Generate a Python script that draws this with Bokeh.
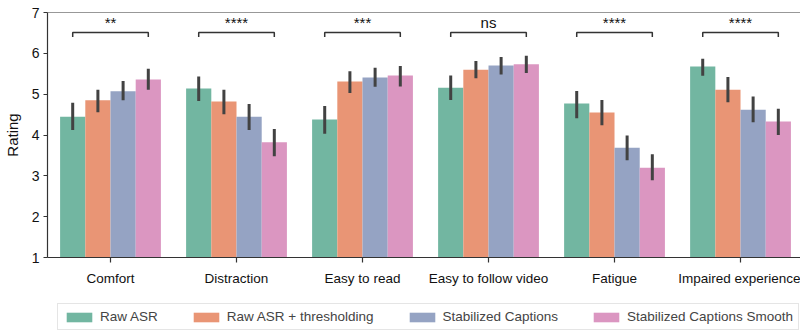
import numpy as np
from bokeh.plotting import figure
from bokeh.layouts import column
from bokeh.models import ColumnDataSource, Range1d, FixedTicker, Legend, LegendItem, Span
from bokeh.transform import dodge
from bokeh.core.properties import value
from bokeh.embed import file_html
from bokeh.resources import INLINE

categories = ["Comfort", "Distraction", "Easy to read", "Easy to follow video", "Fatigue", "Impaired experience"]
series = ["Raw ASR", "Raw ASR + thresholding", "Stabilized Captions", "Stabilized Captions Smooth"]
colors = ["#72b6a1", "#e99575", "#95a3c3", "#db96c1"]

raw_asr = [4.45, 5.14, 4.38, 5.16, 4.77, 5.68]
raw_asr_lo = [4.12, 4.83, 4.03, 4.86, 4.41, 5.45]
raw_asr_hi = [4.79, 5.43, 4.71, 5.46, 5.08, 5.87]
thresholding = [4.85, 4.82, 5.31, 5.60, 4.55, 5.11]
thresholding_lo = [4.56, 4.51, 5.03, 5.39, 4.24, 4.80]
thresholding_hi = [5.11, 5.11, 5.56, 5.81, 4.86, 5.42]
stabilized = [5.07, 4.45, 5.41, 5.70, 3.69, 4.62]
stabilized_lo = [4.85, 4.12, 5.18, 5.48, 3.38, 4.31]
stabilized_hi = [5.32, 4.76, 5.65, 5.91, 3.99, 4.94]
smooth = [5.36, 3.82, 5.46, 5.73, 3.20, 4.33]
smooth_lo = [5.11, 3.48, 5.19, 5.52, 2.89, 4.00]
smooth_hi = [5.62, 4.15, 5.69, 5.94, 3.53, 4.64]
significance = ["**", "****", "***", "ns", "****", "****"]
bracket_y = 6.51
bracket_tip = 6.40
label_y = 6.76

FONT = "Liberation Sans"
AXIS_COLOR = "#333333"

idx = list(range(len(categories)))
p = figure(frame_width=753, frame_height=245, x_range=Range1d(-0.5, 5.476), y_range=Range1d(1, 7),
           output_backend="svg", toolbar_location=None,
           min_border_left=47, min_border_right=0, min_border_top=12, min_border_bottom=33)
p.outline_line_color = None
p.xgrid.visible = False
p.ygrid.visible = False

vals = [raw_asr, thresholding, stabilized, smooth]
los = [raw_asr_lo, thresholding_lo, stabilized_lo, smooth_lo]
his = [raw_asr_hi, thresholding_hi, stabilized_hi, smooth_hi]
offsets = [-0.3, -0.1, 0.1, 0.3]

for name, v, off, c in zip(series, vals, offsets, colors):
    src = ColumnDataSource(dict(x=idx, top=v))
    p.vbar(x=dodge("x", off, range=p.x_range), top="top", bottom=0, width=0.2,
           source=src, fill_color=c, line_color=None)
for lo, hi, off in zip(los, his, offsets):
    src = ColumnDataSource(dict(x=idx, lo=lo, hi=hi))
    p.segment(x0=dodge("x", off, range=p.x_range), x1=dodge("x", off, range=p.x_range),
              y0="lo", y1="hi", source=src, line_color="#424242", line_width=3)

# significance brackets
bx = [[i - 0.3, i - 0.3, i + 0.3, i + 0.3] for i in idx]
by = [[bracket_tip, bracket_y, bracket_y, bracket_tip] for _ in idx]
p.multi_line(xs=bx, ys=by, line_color="#333333", line_width=1.5)
p.text(x=idx, y=[label_y] * len(idx), text=significance, text_align="center",
       text_baseline="alphabetic", text_font=value(FONT), text_font_size="15px",
       text_color="#111111")

p.add_layout(Span(location=7, dimension="width", line_color=AXIS_COLOR, line_width=1.2))

p.xaxis.ticker = FixedTicker(ticks=idx)
p.xaxis.major_label_overrides = {i: c for i, c in enumerate(categories)}
p.yaxis.ticker = FixedTicker(ticks=[1, 2, 3, 4, 5, 6, 7])
for ax in (p.xaxis, p.yaxis):
    ax.axis_line_color = AXIS_COLOR
    ax.axis_line_width = 1.2
    ax.major_tick_line_color = AXIS_COLOR
    ax.major_tick_line_width = 1.2
    ax.major_tick_in = 0
    ax.minor_tick_line_color = None
    ax.major_label_text_font = FONT
    ax.major_label_text_color = "#111111"
p.xaxis.major_tick_out = 5
p.yaxis.major_tick_out = 4
p.xaxis.major_label_text_font_size = "13.5px"
p.yaxis.major_label_text_font_size = "14px"
p.xaxis.major_label_standoff = 8
p.yaxis.major_label_standoff = 4
p.yaxis.axis_label = "Rating"
p.yaxis.axis_label_text_font = FONT
p.yaxis.axis_label_text_font_size = "15px"
p.yaxis.axis_label_text_font_style = "normal"
p.yaxis.axis_label_text_color = "#111111"
p.yaxis.axis_label_standoff = 8

# legend strip
lg = figure(width=800, height=43, x_range=Range1d(0, 1), y_range=Range1d(0, 1),
            output_backend="svg", toolbar_location=None,
            x_axis_location=None, y_axis_location=None,
            min_border_left=0, min_border_right=0, min_border_top=0, min_border_bottom=0)
lg.xgrid.visible = False
lg.ygrid.visible = False
lg.outline_line_color = None
items = []
for name, c in zip(series, colors):
    r = lg.vbar(x=[-5], top=[-5], bottom=-6, width=0.2, fill_color=c, line_color=None)
    items.append(LegendItem(label=name, renderers=[r]))
legend = Legend(items=items, orientation="horizontal", location=(10, 3),
                glyph_width=32, glyph_height=12, label_standoff=5, spacing=32,
                padding=5, margin=0, label_height=14,
                label_text_font=FONT, label_text_font_size="13.5px",
                border_line_color="#cccccc", border_line_width=1)
lg.add_layout(legend, "center")

layout = column(p, lg, spacing=0)
open("out.html", "w").write(file_html(layout, INLINE))
